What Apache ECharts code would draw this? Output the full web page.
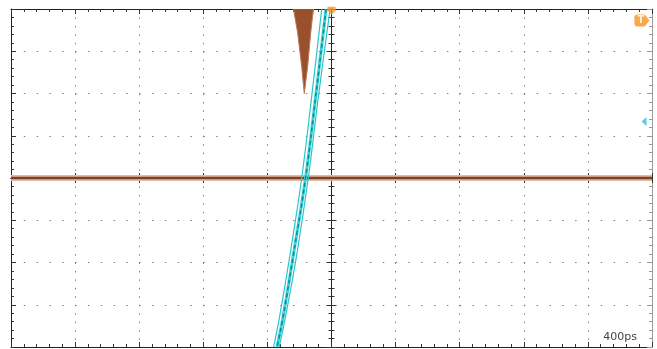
<!DOCTYPE html>
<html>
<head>
<meta charset="utf-8">
<script src="https://cdn.jsdelivr.net/npm/echarts@6/dist/echarts.min.js"></script>
<style>
html,body{margin:0;padding:0;background:#fff;}
#chart{width:657px;height:349px;}
</style>
</head>
<body>
<div id="chart"></div>
<script>
// ---- data (x in ps, y in divisions) ----
const xTicks = [-2000, -1600, -1200, -800, -400, 0, 400, 800, 1200, 1600, 2000];
const yTicks = [-4, -3, -2, -1, 0, 1, 2, 3, 4];
const timebaseLabel = '400ps';

// cyan edge traces
const edgeY        = [4, 1.92, 0, -1.82, -3.24, -4];
const edgeLeftPs   = [-61, -124, -186, -259, -322, -361];
const edgeCenterPs = [-34, -99, -162, -238, -300, -340];
const edgeRightPs  = [-9, -82, -145, -217, -285, -326];

// brown histogram spike (hanging from top)
const spikeX = [-237, -228, -211, -186, -170, -149, -130, -119, -112];
const spikeY = [4, 3.8, 3.43, 2.63, 2.0, 2.63, 3.43, 3.8, 4];

// brown reference level
const refX = [-2000, 2000];
const refY = [0, 0];

// markers
const trigPos   = [[0, 3.96]];
const trigLevel = [[1937, 3.73]];
const chRef     = [[1950, 1.34]];

const zip = (xs, ys) => xs.map((x, i) => [x, ys[i]]);

const chart = echarts.init(document.getElementById('chart'), null, {renderer: 'canvas'});

const gridLeft = 11, gridTop = 9, gridW = 641, gridH = 338;
const xPer = gridW / 10 / 5;  // minor spacing px
const yPer = gridH / 8 / 5;

function xAx(extra) {
  return Object.assign({
    type: 'value', min: xTicks[0], max: xTicks[xTicks.length - 1], interval: 400,
    axisLabel: {show: false},
    splitLine: {show: false},
    minorTick: {show: true, splitNumber: 5, length: 3, lineStyle: {color: '#333', width: 1}},
    axisTick: {show: true, inside: true, length: 5, lineStyle: {color: '#333', width: 1}},
    axisLine: {show: true, onZero: false, lineStyle: {color: '#222', width: 1}}
  }, extra);
}
function yAx(extra) {
  return Object.assign({
    type: 'value', min: yTicks[0], max: yTicks[yTicks.length - 1], interval: 1,
    axisLabel: {show: false},
    splitLine: {show: false},
    minorTick: {show: true, splitNumber: 5, length: 3, lineStyle: {color: '#333', width: 1}},
    axisTick: {show: true, inside: true, length: 5, lineStyle: {color: '#333', width: 1}},
    axisLine: {show: true, onZero: false, lineStyle: {color: '#222', width: 1}}
  }, extra);
}

const option = {
  animation: false,
  backgroundColor: '#fff',
  grid: {left: gridLeft, top: gridTop, width: gridW, height: gridH, containLabel: false},
  xAxis: [
    xAx({position: 'bottom',
         splitLine: {show: true, lineStyle: {color: '#808080', width: 1, type: [1.5, yPer - 1.5]}}}),
    xAx({position: 'top'}),
    xAx({position: 'bottom', axisLine: {show: true, onZero: true, onZeroAxisIndex: 0, lineStyle: {color: '#222'}}}),
    xAx({position: 'bottom', axisTick: {show: true, inside: false, length: 5, lineStyle: {color: '#333'}},
         minorTick: {show: true, splitNumber: 5, length: 3, lineStyle: {color: '#333'}},
         axisLine: {show: true, onZero: true, onZeroAxisIndex: 0, lineStyle: {color: '#222'}}})
  ],
  yAxis: [
    yAx({position: 'left',
         splitLine: {show: true, lineStyle: {color: '#808080', width: 1, type: [1.5, xPer - 1.5]}}}),
    yAx({position: 'right', axisLine: {show: true, onZero: false, lineStyle: {color: '#999'}},
         axisTick: {show: true, inside: true, length: 5, lineStyle: {color: '#999'}},
         minorTick: {show: true, splitNumber: 5, length: 3, lineStyle: {color: '#999'}}}),
    yAx({position: 'left', axisLine: {show: true, onZero: true, onZeroAxisIndex: 0, lineStyle: {color: '#222'}}}),
    yAx({position: 'left', axisTick: {show: true, inside: false, length: 5, lineStyle: {color: '#333'}},
         minorTick: {show: true, splitNumber: 5, length: 3, lineStyle: {color: '#333'}},
         axisLine: {show: true, onZero: true, onZeroAxisIndex: 0, lineStyle: {color: '#222'}}})
  ],
  series: [
    {
      type: 'line', name: 'spike', data: zip(spikeX, spikeY), showSymbol: false, z: 3,
      lineStyle: {color: '#b87858', width: 1},
      areaStyle: {origin: 'end', color: '#98512c', opacity: 1}
    },
    {
      type: 'line', name: 'refHalo', data: zip(refX, refY), showSymbol: false, z: 4,
      lineStyle: {color: '#e2bba8', width: 6}
    },
    {
      type: 'line', name: 'ref', data: zip(refX, refY), showSymbol: false, z: 5,
      lineStyle: {color: '#7e4224', width: 2.5}
    },
    {
      type: 'line', name: 'edgeLeft', data: zip(edgeLeftPs, edgeY), showSymbol: false, z: 6, smooth: 0.4,
      lineStyle: {color: '#27c6cf', width: 1.2}
    },
    {
      type: 'line', name: 'edgeRight', data: zip(edgeRightPs, edgeY), showSymbol: false, z: 6, smooth: 0.4,
      lineStyle: {color: '#27c6cf', width: 1.2}
    },
    {
      type: 'line', name: 'edgeCenterBg', data: zip(edgeCenterPs, edgeY), showSymbol: false, z: 6, smooth: 0.4,
      lineStyle: {color: '#3fd0d6', width: 3}
    },
    {
      type: 'line', name: 'edgeCenter', data: zip(edgeCenterPs, edgeY), showSymbol: false, z: 7, smooth: 0.4,
      lineStyle: {color: '#0b8c8e', width: 1.5, type: [4, 3]}
    },
    {
      type: 'scatter', name: 'trigPos', data: trigPos, z: 9, clip: false,
      symbol: 'path://M0,0 L10,0 L10,5 L5,10 L0,5 Z', symbolSize: [8, 8],
      itemStyle: {color: '#f7941d'}
    },
    {
      type: 'scatter', name: 'trigLevel', data: trigLevel, z: 9, clip: false,
      symbol: 'path://M3,0 L11,0 L16,6 L11,12 L3,12 Q0,12 0,9 L0,3 Q0,0 3,0 Z', symbolSize: [15, 12],
      itemStyle: {color: '#f7941d'},
      label: {show: true, position: 'inside', formatter: 'T', color: '#fff', fontSize: 10,
              fontWeight: 'bold', fontFamily: 'DejaVu Sans', offset: [-1, 0]}
    },
    {
      type: 'scatter', name: 'chRef', data: chRef, z: 9, clip: false,
      symbol: 'path://M10,0 L10,18 L0,9 Z', symbolSize: [5, 9],
      itemStyle: {color: '#26c6da'}
    }
  ],
  graphic: [
    {type: 'text', right: 20, top: 332, z: 20,
     style: {text: timebaseLabel, font: '11px "DejaVu Sans"', fill: '#444'}}
  ]
};
chart.setOption(option);
</script>
</body>
</html>
